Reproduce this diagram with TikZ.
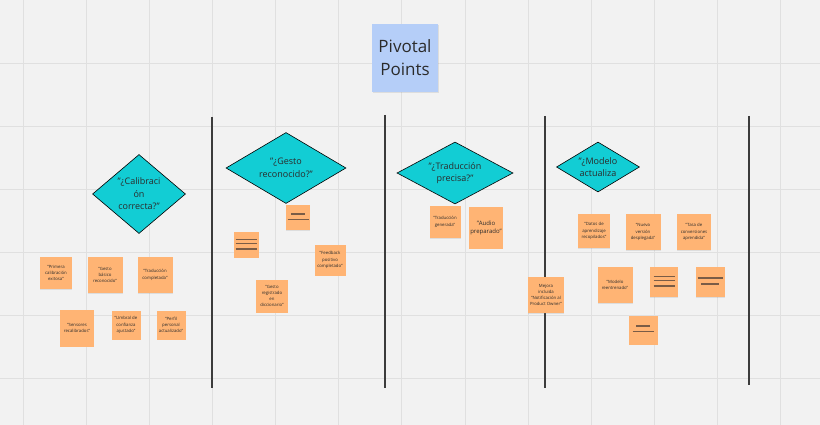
\documentclass[tikz,border=0pt]{standalone}
\usepackage{fontspec}
\setmainfont{Open Sans}
\usetikzlibrary{shapes.geometric,shadows}
\definecolor{boardbg}{HTML}{F2F2F2}
\definecolor{gridgray}{HTML}{E0E0E0}
\definecolor{stickyorange}{HTML}{FFB474}
\definecolor{titleblue}{HTML}{B5CEF8}
\definecolor{decisioncyan}{HTML}{12CDD4}
\definecolor{inktext}{HTML}{2B2B2B}
\definecolor{iconink}{HTML}{7A5C46}
\definecolor{dividergray}{HTML}{3C3C3C}
\tikzset{
  sticky/.style={fill=stickyorange, align=center, inner sep=1pt, text=inktext,
    font=\fontsize{4.3}{6.3}\selectfont,
    drop shadow={opacity=0.18, shadow xshift=0.4pt, shadow yshift=-0.9pt}},
  decision/.style={diamond, draw=black, line width=0.6pt, fill=decisioncyan, inner sep=0pt},
  decisiontext/.style={align=center, text=inktext, font=\fontsize{9}{12.5}\selectfont},
  iconline/.style={draw=iconink, line width=1.3pt},
  iconthree/.style={path picture={
      \draw[iconline] ([shift={(-10.5,-5.5)}]path picture bounding box.center) -- ++(21,0);
      \draw[iconline] ([shift={(-10.5,-1.5)}]path picture bounding box.center) -- ++(21,0);
      \draw[iconline] ([shift={(-10.5,4)}]path picture bounding box.center) -- ++(21,0);}},
  icontwo/.style={path picture={
      \draw[iconline] ([shift={(-7,-4)}]path picture bounding box.center) -- ++(14,0);
      \draw[iconline] ([shift={(-10.5,1.5)}]path picture bounding box.center) -- ++(21,0);}},
  icontwoflip/.style={path picture={
      \draw[iconline] ([shift={(-12.5,-4)}]path picture bounding box.center) -- ++(25,0);
      \draw[iconline] ([shift={(-9,2)}]path picture bounding box.center) -- ++(18,0);}},
  gridline/.style={draw=gridgray, line width=0.9pt},
  divider/.style={draw=dividergray, line width=1.4pt}
}
\begin{document}
\begin{tikzpicture}[x=1pt,y=-1pt]
  \fill[boardbg] (0,0) rectangle (820,425);
  \useasboundingbox (0,0) rectangle (820,425);
  \foreach \i in {0,...,12}
    \draw[gridline] ({23+63.15*\i},0) -- ({23+63.15*\i},425);
  \foreach \j in {1,...,6}
    \draw[gridline] (0,{63*\j}) -- (820,{63*\j});

  % section dividers
  \draw[divider] (212,117) -- (212,388);
  \draw[divider] (385,115) -- (385,388);
  \draw[divider] (545,116) -- (545,388);
  \draw[divider] (749,116) -- (749,385);

  \draw (405,58) node[fill=titleblue, minimum width=66pt, minimum height=68pt, align=center,
      text=inktext, font=\fontsize{17}{23}\selectfont,
      drop shadow={opacity=0.18, shadow xshift=0.5pt, shadow yshift=-1pt}] (title) {Pivotal\\Points};

  % decisions
  \draw
    (139,194) node[decision, minimum width=93pt, minimum height=79pt,
      label={[decisiontext]center:{"¿Calibraci\\ón\\correcta?"}}] (calib) {}
    (286,168) node[decision, minimum width=120pt, minimum height=71pt,
      label={[decisiontext]center:{"¿Gesto\\reconocido?"}}] (gesto) {}
    (455,173) node[decision, minimum width=116pt, minimum height=62pt,
      label={[decisiontext]center:{"¿Traducción\\precisa?"}}] (trad) {}
    (598,167) node[decision, minimum width=83pt, minimum height=50pt,
      label={[decisiontext]center:{"¿Modelo\\actualiza}}] (modelo) {};

  % calibracion
  \draw
    (56,273) node[sticky, minimum width=32pt, minimum height=32pt] (c1) {"Primera\\calibración\\exitosa"}
    (105,275) node[sticky, minimum width=35pt, minimum height=36pt] (c2) {"Gesto\\básico\\reconocido"}
    (155,275) node[sticky, minimum width=35pt, minimum height=36pt] (c3) {"Traducción\\completada"}
    (77,328) node[sticky, minimum width=34pt, minimum height=37pt] (c4) {"Sensores\\recalibrados"}
    (126,325) node[sticky, minimum width=29pt, minimum height=29pt] (c5) {"Umbral de\\confianza\\ajustado"}
    (171,325) node[sticky, minimum width=29pt, minimum height=29pt] (c6) {"Perfil\\personal\\actualizado"};

  % gesto
  \draw
    (298,218) node[sticky, icontwo, minimum width=24pt, minimum height=25pt] (g1) {}
    (246,245) node[sticky, iconthree, minimum width=25pt, minimum height=25pt] (g2) {}
    (330,260) node[sticky, minimum width=31pt, minimum height=31pt] (g3) {"Feedback\\positivo\\completado"}
    (272,296) node[sticky, minimum width=32pt, minimum height=33pt, font=\fontsize{4.3}{5.9}\selectfont]
      (g4) {"Gesto\\registrado\\en\\diccionario"};

  % traduccion
  \draw
    (445,222) node[sticky, minimum width=31pt, minimum height=32pt] (t1) {"Traducción\\generada"}
    (486,228) node[sticky, minimum width=31pt, minimum height=41pt, font=\fontsize{6}{8.5}\selectfont]
      (t2) {"Audio\\preparado"};

  % modelo
  \draw
    (594,231) node[sticky, minimum width=32pt, minimum height=34pt] (m1) {"Datos de\\aprendizaje\\recopilados"}
    (643,232) node[sticky, minimum width=35pt, minimum height=36pt] (m2) {"Nueva\\versión\\desplegada"}
    (694,232) node[sticky, minimum width=34pt, minimum height=36pt] (m3) {"Tasa de\\conversiones\\aprendida"}
    (546,295) node[sticky, minimum width=36pt, minimum height=36pt, font=\fontsize{4.3}{5.9}\selectfont]
      (m4) {Mejora\\incluida\\"Notificación al\\Product Owner"}
    (615,285) node[sticky, minimum width=35pt, minimum height=36pt] (m5) {"Modelo\\reentrenado"}
    (664,282) node[sticky, iconthree, minimum width=28pt, minimum height=30pt] (m6) {}
    (710,282) node[sticky, icontwoflip, minimum width=29pt, minimum height=30pt] (m7) {}
    (643,330) node[sticky, icontwo, minimum width=29pt, minimum height=29pt] (m8) {};
\end{tikzpicture}
\end{document}
